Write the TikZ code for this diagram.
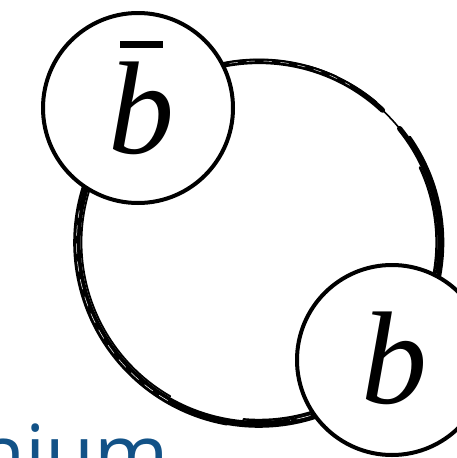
\documentclass[tikz,border=0pt]{standalone}
\usepackage{fontspec}
\setmainfont{Liberation Serif}
\newfontfamily\oniumfont{Open Sans}
\usepackage{xcolor}
\definecolor{oniumblue}{RGB}{18,82,135}

\begin{document}
\begin{tikzpicture}[
	x=1pt,
	y=-1pt,
	line cap=round,
	line join=round,
	quark/.style={circle,draw,fill=white,line width=4pt,minimum size=190pt,inner sep=0pt},
	flavour/.style={anchor=base,inner sep=0pt,font=\fontsize{132}{132}\selectfont\itshape},
	]
	\useasboundingbox (0,0) rectangle (457,458);
	\clip (0,0) rectangle (457,458);
	
	\coordinate (ring) at (259,242.5);
	\draw[line width=5.2pt] ([shift={(-39:181)}]ring) arc[start angle=-39,end angle=313,radius=181];
	\draw[line width=1.6pt] ([shift={(-60:181)}]ring) arc[start angle=-60,end angle=-30,radius=181];
	\draw[line width=0.8pt] ([shift={(-75:183.5)}]ring) arc[start angle=-75,end angle=-50,radius=183.5];
	\draw[line width=2.6pt] ([shift={(-35:184)}]ring) arc[start angle=-35,end angle=110,radius=184];
	\draw[line width=2.4pt] ([shift={(-25:177.5)}]ring) arc[start angle=-25,end angle=95,radius=177.5];
	\draw[line width=2.6pt] ([shift={(100:184.5)}]ring) arc[start angle=100,end angle=215,radius=184.5];
	\draw[line width=1.8pt] ([shift={(120:177.5)}]ring) arc[start angle=120,end angle=200,radius=177.5];
	\draw[line width=1.4pt] ([shift={(200:183.5)}]ring) arc[start angle=200,end angle=240,radius=183.5];
	\draw[line width=1.0pt] ([shift={(245:183.5)}]ring) arc[start angle=245,end angle=295,radius=183.5];
	\draw[white,line width=0.5pt,dash pattern=on 14pt off 6pt] ([shift={(10:180.5)}]ring) arc[start angle=10,end angle=80,radius=180.5];
	\draw[white,line width=0.5pt,dash pattern=on 10pt off 8pt] ([shift={(120:182.5)}]ring) arc[start angle=120,end angle=190,radius=182.5];
	\draw[white,line width=0.4pt,dash pattern=on 8pt off 9pt] ([shift={(250:181.5)}]ring) arc[start angle=250,end angle=300,radius=181.5];
	
	\node[quark] (antib) at (138,108) {};
	\node[quark] (b) at (392,360) {};
	\node[flavour] (antiblabel) at (141,153) {\makebox[0pt][l]{\hspace{12pt}\rule[105pt]{43pt}{7pt}}b};
	\node[flavour] (blabel) at (394,403) {b};
	
	\node[anchor=base west,inner sep=0pt,text=oniumblue,font=\fontsize{80}{80}\selectfont\oniumfont] (name) at (-24,482) {nium};
\end{tikzpicture}
\end{document}
